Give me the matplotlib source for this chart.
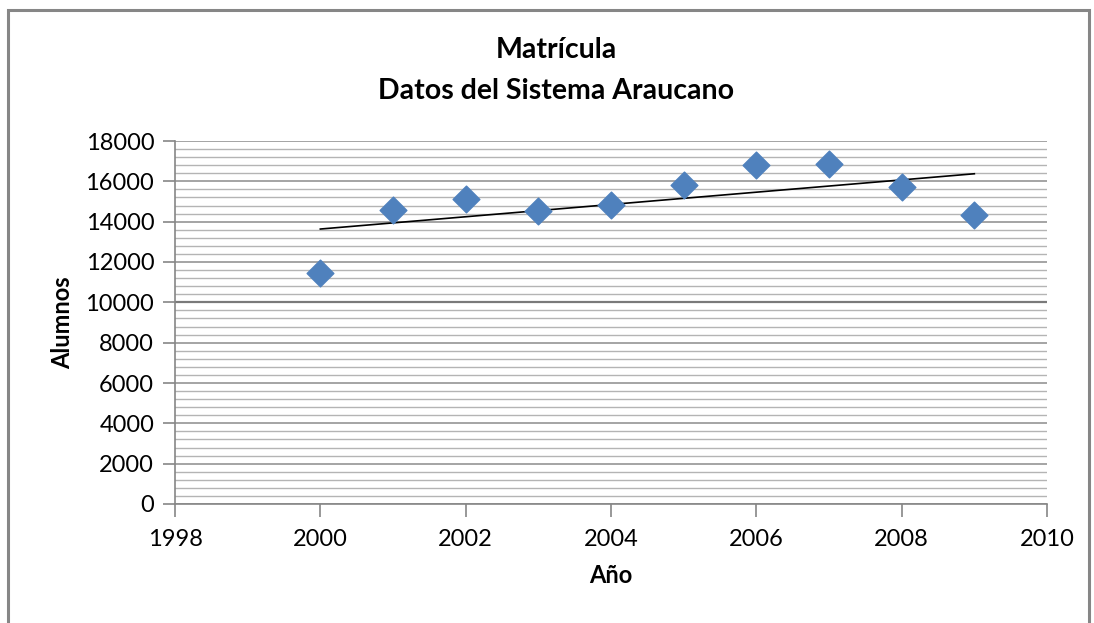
import numpy as np
import matplotlib.pyplot as plt
from matplotlib.patches import Rectangle
from matplotlib.ticker import MultipleLocator

years = [2000, 2001, 2002, 2003, 2004, 2005, 2006, 2007, 2008, 2009]
alumnos = [11450, 14600, 15100, 14550, 14850, 15800, 16800, 16850, 15700, 14350]

plt.rcParams['font.family'] = ['Lato', 'DejaVu Sans']

fig = plt.figure(figsize=(10.94, 6.23), dpi=100)
ax = fig.add_axes([175/1094, 1-504/623, (1047-175)/1094, (504-141)/623])

# outer chart frame (Excel style)
fig.patches.append(Rectangle((8/1094, -0.05), (1089-8)/1094, 1.05-10/623,
                             transform=fig.transFigure, fill=False,
                             edgecolor='#868686', linewidth=2.2))

# linear trend line
x = np.array(years, dtype=float)
y = np.array(alumnos, dtype=float)
m, b = np.polyfit(x, y, 1)
ax.plot(x, m*x + b, color='black', linewidth=1.2, zorder=3)

ax.scatter(years, alumnos, marker='D', s=185, color='#4F81BD',
           edgecolors='#4F81BD', zorder=4)

ax.set_xlim(1998, 2010)
ax.set_ylim(0, 18000)
ax.xaxis.set_major_locator(MultipleLocator(2))
ax.yaxis.set_major_locator(MultipleLocator(2000))
ax.yaxis.set_minor_locator(MultipleLocator(400))

ax.grid(which='major', axis='y', color='#8c8c8c', linewidth=1.1)
ax.grid(which='minor', axis='y', color='#b4b4b4', linewidth=1.0)
ax.axhline(10000, color='#7a7a7a', linewidth=1.6, zorder=1)
ax.set_axisbelow(True)

for s in ['top', 'right']:
    ax.spines[s].set_visible(False)
for s in ['left', 'bottom']:
    ax.spines[s].set_color('#868686')
    ax.spines[s].set_linewidth(1.2)

ax.tick_params(which='major', length=9, width=1.2, color='#868686',
               labelsize=17, pad=6)
ax.tick_params(axis='x', pad=9)
ax.tick_params(which='minor', length=0)

ax.set_xlabel('Año', fontsize=17, fontweight='bold', labelpad=10)
ax.set_ylabel('Alumnos', fontsize=17, fontweight='bold', labelpad=8)

fig.text(556/1094, 1-50/623, 'Matrícula', ha='center', va='center',
         fontsize=20.5, fontweight='bold')
fig.text(556/1094, 1-91/623, 'Datos del Sistema Araucano', ha='center',
         va='center', fontsize=20.5, fontweight='bold')

fig.savefig('out.png', dpi=100)
